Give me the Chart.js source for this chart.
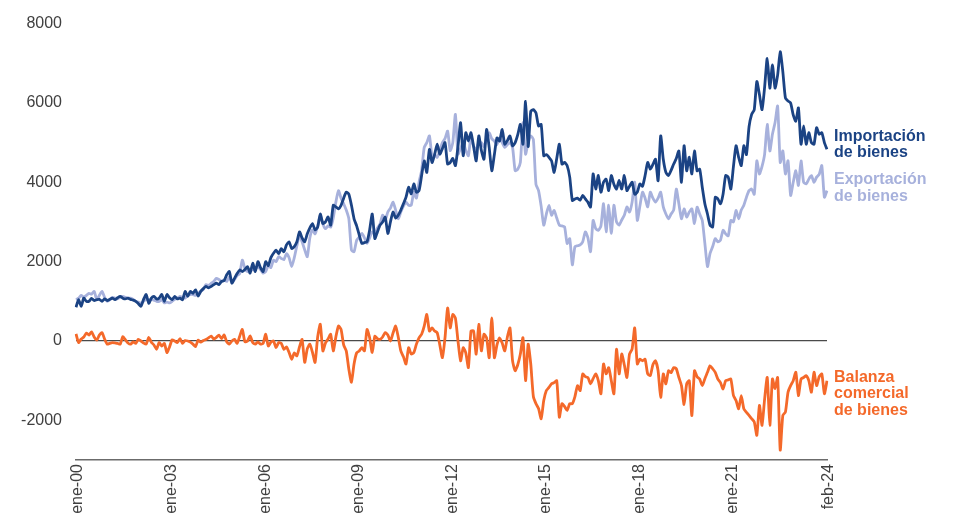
<!DOCTYPE html>
<html lang="es">
<head>
<meta charset="utf-8">
<title>Comercio de bienes</title>
<script src="https://cdn.jsdelivr.net/npm/chart.js@4.4.1/dist/chart.umd.min.js"></script>
<style>
  html, body { margin: 0; padding: 0; background: #ffffff; }
  #wrap { width: 953px; height: 517px; }
</style>
</head>
<body>
<div id="wrap"><canvas id="c" width="953" height="517"></canvas></div>
<script>
// Monthly series, ene-2000 .. feb-2024
const monthNames = ['ene','feb','mar','abr','may','jun','jul','ago','sep','oct','nov','dic'];
const firstYear = 2000;
const lastYear = 2024;
const monthsInLastYear = 2;
const tickLabels = ['ene-00','ene-03','ene-06','ene-09','ene-12','ene-15','ene-18','ene-21','feb-24'];
const yTicks = [-2000, 0, 2000, 4000, 6000, 8000];

const importaciones = [
  850,1040,875,1080,1000,1000,1075,1020,1040,1050,1000,1060,
  1020,1050,1080,1040,1090,1125,1080,1060,1080,1050,1030,1000,
  940,875,1050,1170,950,1080,1125,1060,1080,1170,1000,1170,
  1090,1040,1125,1060,1080,1040,1250,1125,1250,1200,1290,1130,
  1250,1320,1375,1340,1375,1420,1460,1420,1500,1520,1670,1750,
  1460,1580,1700,1790,1750,1800,1875,1710,1960,1750,2000,1850,
  1750,2000,1900,2100,2210,2290,2200,2330,2250,2420,2500,2330,
  2380,2500,2750,2600,2500,2700,2850,2960,2800,2870,3200,2960,
  3000,3125,2920,3420,3380,3330,3420,3600,3750,3700,3420,3080,
  2900,2670,2460,2480,2500,2800,3200,2580,2750,2920,3000,3120,
  2710,3000,3250,3100,3170,3300,3460,3625,3875,3710,3960,3750,
  3790,4170,4540,4250,4830,4500,4700,4960,4710,4850,5000,4460,
  4500,4600,4420,4900,5500,4670,5250,5040,5250,4900,4540,5170,
  4800,4580,5330,4880,4290,4700,5120,5040,5330,4960,5050,5170,
  4920,5000,5200,5460,4960,6040,4900,5790,5830,5750,5420,5460,
  4670,4700,4630,4540,4250,4600,4960,4460,4500,4420,4130,3540,
  3580,3600,3550,3670,3580,3500,3375,4210,3830,4170,3750,4000,
  4080,3790,4170,3950,3830,4050,3830,4170,3790,3900,4000,3700,
  3750,3960,3900,4170,4500,4330,4450,4580,4040,5170,4580,4250,
  4170,4300,4460,4600,4790,4000,4920,4290,4630,4210,4790,4290,
  4330,3875,3460,3200,2920,2875,3625,3580,3460,3700,4170,4130,
  3830,4400,4920,4630,4420,4920,4700,5400,5710,5830,6540,6210,
  5830,6400,7125,6375,6960,6375,6700,7290,6790,6125,6050,6000,
  5700,5540,5875,4960,5420,4960,5250,5000,4960,5375,5210,5250,
  5000,4830
];

const exportaciones = [
  1040,1080,1150,1100,1150,1200,1180,1250,1040,1150,1250,1100,
  1000,1040,1100,1080,1060,1100,1125,1100,1080,1080,1050,1000,
  980,950,1000,1050,1040,1050,1030,1000,1000,1040,960,980,
  960,1000,1050,1080,1125,1100,1080,1150,1170,1170,1150,1200,
  1250,1300,1420,1400,1450,1500,1580,1550,1500,1540,1500,1620,
  1460,1550,1650,1700,2040,1830,1750,1800,1790,1820,1875,1800,
  1710,1750,1900,1850,2040,2000,2125,2080,2050,2200,2100,1875,
  2100,2400,2660,2500,2300,2125,2600,2800,2700,2900,3170,2950,
  2830,2900,2870,3100,3500,3790,3600,3460,3300,3080,2290,2250,
  2540,2620,2710,2600,2460,2600,2750,2700,2850,2950,3170,3050,
  3250,3350,3500,3300,3080,3250,3400,3500,3420,3420,3750,3600,
  4000,4300,4875,5000,5170,4670,4700,4630,4800,5000,5100,5290,
  4800,5000,5710,4710,4850,5000,4800,4670,5170,4900,4830,5000,
  5000,4900,5100,5250,5100,5040,4950,5120,5000,4880,4950,5000,
  4880,4290,4330,4500,5500,4710,5000,5170,5080,3950,3790,3400,
  2920,3200,3420,3170,3290,3100,2920,2900,2880,2460,2580,1920,
  2380,2400,2420,2500,2750,2600,2250,3040,2830,2790,2900,3460,
  2750,3420,2710,3420,3000,2920,3050,3170,3380,3250,3500,4000,
  3040,3400,3750,3600,3380,3750,3600,3500,3600,3750,3380,3200,
  3080,3200,3300,3830,3460,3080,3330,3125,3250,3330,2960,3375,
  3200,3040,2460,1875,2210,2380,2580,2500,2540,2790,2700,2650,
  3040,3000,3290,3080,3300,3420,3625,3790,3830,3700,4540,4210,
  4400,4710,5460,4790,5210,5500,5920,4500,4790,4210,4540,3670,
  4000,4290,3920,4540,4000,3960,4080,4170,4000,4130,4200,4420,
  3625,3790
];

const balanza = [
  180,-40,50,100,200,150,230,100,20,150,210,50,
  -80,-60,-40,-50,-60,-80,110,30,-50,-80,-20,-60,
  40,0,-50,-80,90,-30,-100,-210,-40,-130,-60,-290,
  -150,30,0,-40,60,-60,10,0,-30,-80,-140,20,
  -30,10,40,80,125,50,90,150,60,150,-20,-80,
  0,40,-60,120,290,-20,0,130,-40,-80,-20,-80,
  -60,170,-125,-30,0,-170,-40,-60,-210,-150,-290,-460,
  -300,-375,-150,40,-540,-200,-80,-290,-540,100,420,-250,
  -50,50,170,-250,100,375,290,-100,-250,-710,-1040,-580,
  -300,-250,-170,-250,290,80,-290,120,60,40,100,210,
  150,0,200,375,100,-250,-400,-580,-170,-330,-290,-80,
  80,170,375,670,250,330,250,210,-100,-420,80,830,
  330,670,580,0,-500,-170,-300,-670,250,250,-330,420,
  -250,170,80,-420,580,-420,-100,80,-50,-250,100,330,
  -500,-750,-600,-330,80,-1000,-80,-580,-1400,-1580,-1700,-1960,
  -1500,-1250,-1170,-1080,-1050,-1000,-1920,-1580,-1650,-1750,-1580,-1580,
  -1400,-1125,-1250,-830,-900,-920,-1080,-950,-830,-1000,-1330,-580,
  -830,-670,-1000,-1330,-210,-830,-330,-600,-920,-330,-200,330,
  -580,-460,-500,-460,-830,-870,-600,-500,-750,-1420,-830,-1080,
  -750,-800,-670,-700,-920,-1125,-1600,-1080,-1000,-1880,-750,-900,
  -960,-1125,-950,-790,-625,-700,-790,-960,-1050,-1210,-1000,-980,
  -960,-1375,-1500,-1710,-1375,-1710,-1800,-1875,-1960,-2040,-2375,-1625,
  -2125,-1460,-920,-2125,-960,-1200,-920,-2750,-1875,-1790,-1290,-1125,
  -1000,-790,-1375,-960,-920,-875,-1000,-1290,-790,-1125,-900,-830,
  -1330,-1000
];

// Category labels such as "ene-00", "feb-24"
const categories = [];
for (let y = firstYear; y <= lastYear; y++) {
  const count = (y === lastYear) ? monthsInLastYear : 12;
  for (let m = 0; m < count; m++) {
    categories.push(monthNames[m] + '-' + String(y % 100).padStart(2, '0'));
  }
}

const NAVY = '#1b4384';
const LAVENDER = '#a7b1dc';
const ORANGE = '#f4692a';
const FONT = "'Liberation Sans', Arial, Helvetica, sans-serif";

Chart.defaults.font.family = FONT;
Chart.defaults.font.size = 16;
Chart.defaults.color = '#404040';

// Series names written at the right edge of the plot
const seriesNames = [
  { lines: ['Importación', 'de bienes'], color: NAVY, baseline: 140.7 },
  { lines: ['Exportación', 'de bienes'], color: LAVENDER, baseline: 184 },
  { lines: ['Balanza', 'comercial', 'de bienes'], color: ORANGE, baseline: 381.7 }
];
const lineStep = 16.5;

const sideNames = {
  id: 'sideNames',
  afterDraw(chart) {
    const ctx = chart.ctx;
    const x = chart.chartArea.right + 7;
    ctx.save();
    ctx.font = 'bold 16px ' + FONT;
    ctx.textAlign = 'left';
    ctx.textBaseline = 'alphabetic';
    seriesNames.forEach(s => {
      ctx.fillStyle = s.color;
      s.lines.forEach((t, k) => ctx.fillText(t, x, s.baseline + k * lineStep));
    });
    ctx.restore();
  }
};

const lineStyle = { borderWidth: 2.8, pointRadius: 0, pointHoverRadius: 0, tension: 0.2, fill: false };

new Chart(document.getElementById('c'), {
  type: 'line',
  data: {
    labels: categories,
    datasets: [
      Object.assign({ label: 'Importación de bienes', data: importaciones, borderColor: NAVY }, lineStyle),
      Object.assign({ label: 'Exportación de bienes', data: exportaciones, borderColor: LAVENDER }, lineStyle),
      Object.assign({ label: 'Balanza comercial de bienes', data: balanza, borderColor: ORANGE }, lineStyle)
    ]
  },
  options: {
    responsive: false,
    animation: false,
    layout: { padding: { top: 20, right: 126, bottom: 0, left: 0 } },
    plugins: { legend: { display: false }, tooltip: { enabled: false } },
    scales: {
      x: {
        type: 'category',
        offset: false,
        grid: { display: false, drawTicks: false },
        border: { display: true, color: '#6b6b6b', width: 1.5 },
        ticks: {
          autoSkip: false,
          minRotation: 90,
          maxRotation: 90,
          padding: 4,
          labelOffset: 2,
          color: '#404040',
          callback(value, index) {
            const l = categories[index];
            return tickLabels.includes(l) ? l : null;
          }
        },
        afterFit(scale) { scale.height = 57; }
      },
      y: {
        min: -3000,
        max: 8000,
        afterBuildTicks(scale) { scale.ticks = yTicks.map(v => ({ value: v })); },
        grid: {
          drawTicks: false,
          lineWidth: 1.2,
          color: c => (c.tick && c.tick.value === 0) ? '#4a4a4a' : 'rgba(0,0,0,0)'
        },
        border: { display: false },
        ticks: { padding: 14, color: '#404040', callback: v => String(v) },
        afterFit(scale) { scale.width = 76; }
      }
    }
  },
  plugins: [sideNames]
});
</script>
</body>
</html>
